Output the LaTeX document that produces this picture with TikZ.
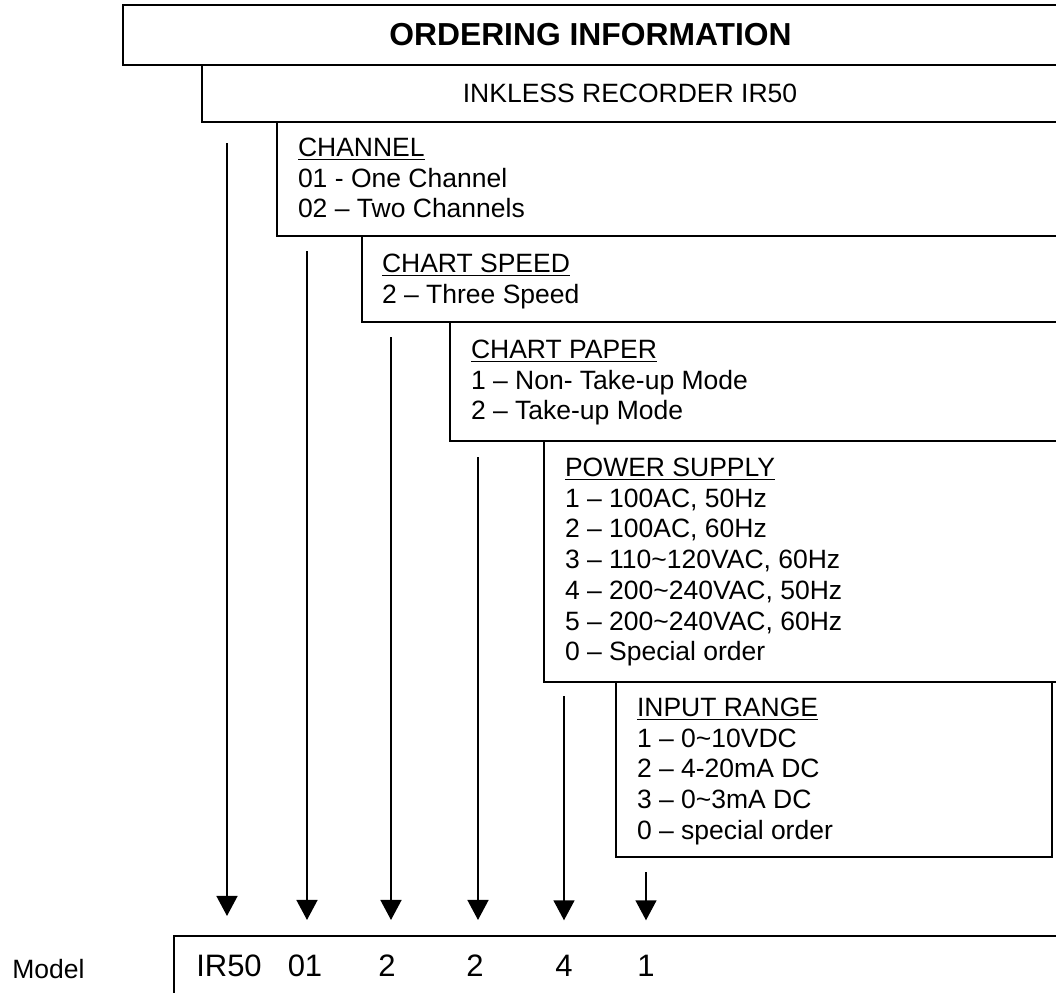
\documentclass[tikz,border=0pt]{standalone}
\usepackage{fontspec}
\setmainfont{Liberation Sans}
\usetikzlibrary{positioning,arrows.meta}

\begin{document}
\begin{tikzpicture}[x=0.5pt,y=-0.5pt]

	%DEFINITIONS
	\tikzstyle{every node}=[font=\fontsize{13.25}{15.35}\selectfont]
	\tikzstyle{block} = [draw, line width=1pt, anchor=north west, inner sep=0pt, outer sep=0pt]
	\tikzstyle{blank} = [align=left, inner sep=0pt, outer sep=0pt]
	\tikzstyle{big} = [font=\fontsize{15.5}{18}\selectfont, anchor=base, inner sep=0pt]
	\tikzstyle{flecha} = [-{Triangle[width=10.5pt,length=10pt]}, line width=0.75pt, shorten >=17pt]

	\useasboundingbox (0,0) rectangle (1056,992);
	\clip (0,0) rectangle (1056,992);

	%BOXES
	\node[block, minimum width=467.5pt, minimum height=30pt, font=\bfseries\fontsize{15.9}{18}\selectfont] (title) at (123,5) {ORDERING INFORMATION};
	\node[block, minimum width=428pt, minimum height=28.5pt] (sub) at (202,65) {INKLESS RECORDER IR50};
	\node[block, minimum width=390.5pt, minimum height=57pt] (channel) at (277,122) {};
	\node[block, minimum width=348pt, minimum height=43pt] (speed) at (362,236) {};
	\node[block, minimum width=304pt, minimum height=59.5pt] (paper) at (450,322) {};
	\node[block, minimum width=257pt, minimum height=120.5pt] (power) at (544,441) {};
	\node[block, minimum width=218pt, minimum height=87.5pt] (input) at (616,682) {};
	\node[block, minimum width=442pt, minimum height=40pt] (mbox) at (174,936) {};

	%TEXTS
	\node[blank, below right=8pt and 10.5pt of channel.north west] (channeltxt) {\underline{CHANNEL}\\01 - One Channel\\02 – Two Channels};
	\node[blank, below right=9pt and 10pt of speed.north west] (speedtxt) {\underline{CHART SPEED}\\2 – Three Speed};
	\node[blank, below right=9pt and 10.5pt of paper.north west] (papertxt) {\underline{CHART PAPER}\\1 – Non- Take-up Mode\\2 – Take-up Mode};
	\node[blank, below right=8.5pt and 10.5pt of power.north west] (powertxt) {\underline{POWER SUPPLY}\\1 – 100AC, 50Hz\\2 – 100AC, 60Hz\\3 – 110\textasciitilde 120VAC, 60Hz\\4 – 200\textasciitilde 240VAC, 50Hz\\5 – 200\textasciitilde 240VAC, 60Hz\\0 – Special order};
	\node[blank, below right=8pt and 10.5pt of input.north west] (inputtxt) {\underline{INPUT RANGE}\\1 – 0\textasciitilde 10VDC\\2 – 4-20mA DC\\3 – 0\textasciitilde 3mA DC\\0 – special order};

	%MODEL
	\node[anchor=base west, inner sep=0pt] (model) at (12,978) {Model};
	\node[big] (d1) at (229,976) {IR50};
	\node[big] (d2) at (305,976) {01};
	\node[big] (d3) at (387,976) {2};
	\node[big] (d4) at (475,976) {2};
	\node[big] (d5) at (564,976) {4};
	\node[big] (d6) at (646,976) {1};

	%ARROWS
	\coordinate (a1) at (227,143);
	\coordinate (a2) at (307,251);
	\coordinate (a3) at (391,337);
	\coordinate (a4) at (478,457);
	\coordinate (a5) at (564,696);
	\coordinate (a6) at (646,872);
	\draw [flecha, shorten >=19pt] (a1) -- (a1 |- d1.north);
	\draw [flecha] (a2) -- (a2 |- d2.north);
	\draw [flecha] (a3) -- (a3 |- d3.north);
	\draw [flecha] (a4) -- (a4 |- d4.north);
	\draw [flecha] (a5) -- (a5 |- d5.north);
	\draw [flecha] (a6) -- (a6 |- d6.north);
\end{tikzpicture}
\end{document}
